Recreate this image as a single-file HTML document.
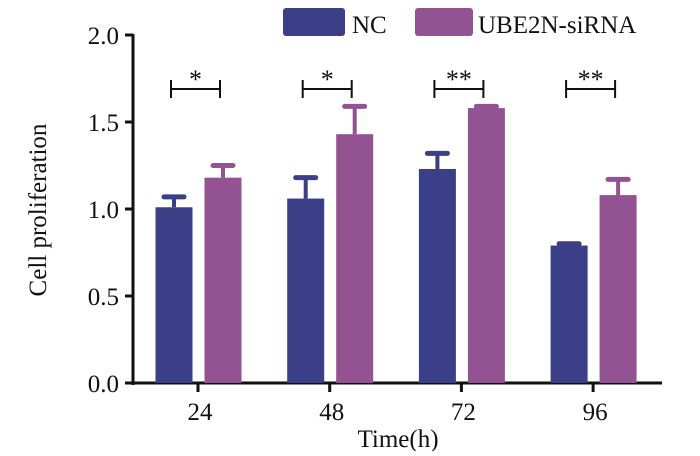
<!DOCTYPE html>
<html><head><meta charset="utf-8"><style>
body{margin:0;background:#fff}
svg text{font-family:"Liberation Serif",serif;fill:#111}
</style></head><body>
<svg id="chart" width="700" height="451">
<g id="axes"></g><g id="bars"></g><g id="sig"></g>
<g>
<rect x="283" y="8" width="62" height="28" rx="3" fill="#3a3f87"/>
<text x="352" y="33" font-size="25">NC</text>
<rect x="415" y="8" width="58" height="28" rx="3" fill="#935392"/>
<text x="478" y="33" font-size="25">UBE2N-siRNA</text>
</g>
<text x="398" y="447" font-size="25" text-anchor="middle">Time(h)</text>
<text transform="translate(46,210) rotate(-90)" font-size="25" text-anchor="middle">Cell proliferation</text>
</svg>
<script>
const categories=["24","48","72","96"];
const ncValues=[1.01,1.06,1.23,0.79];
const ncErr=[0.06,0.12,0.09,0.01];
const siValues=[1.18,1.43,1.58,1.08];
const siErr=[0.07,0.16,0.01,0.09];
const sigLabels=["*","*","**","**"];
const yTicks=[0,0.5,1.0,1.5,2.0];
const NS="http://www.w3.org/2000/svg";
const x0=133,y0=383,yScale=174;
const y=v=>y0-v*yScale;
const xc=i=>198+i*131.7;
function mk(tag,attrs,parent,text){const e=document.createElementNS(NS,tag);for(const k in attrs)e.setAttribute(k,attrs[k]);if(text!==undefined)e.textContent=text;parent.appendChild(e);return e;}
const axes=document.getElementById('axes'),bars=document.getElementById('bars'),sig=document.getElementById('sig');
let a=mk('line',{x1:x0,y1:y(2)-1,x2:x0,y2:y0+2,stroke:'#111','stroke-width':3},axes);

a=mk('line',{x1:x0-8,y1:y0,x2:662,y2:y0,stroke:'#111','stroke-width':3},axes);

yTicks.forEach(t=>{
 let l=mk('line',{x1:x0-8,y1:y(t),x2:x0,y2:y(t),stroke:'#111','stroke-width':3},axes);
 
 let tx=mk('text',{x:x0-14,y:y(t)+9,'font-size':25,'text-anchor':'end'},axes,t.toFixed(1));
 
});
categories.forEach((c,i)=>{
 const cx=xc(i);
 let l=mk('line',{x1:cx,y1:y0,x2:cx,y2:y0+9,stroke:'#111','stroke-width':3},axes);
 
 let tx=mk('text',{x:cx+2,y:y0+37,'font-size':25,'text-anchor':'middle'},axes,c);
 
 [[ncValues,ncErr,'#3a3f87',-24,'nc'],[siValues,siErr,'#935392',25,'sirna']].forEach(([v,e,col,off,nm])=>{
  const bx=cx+off;
  let r=mk('rect',{x:bx-18.5,y:y(v[i]),width:37,height:y0-y(v[i]),fill:col},bars);
  
  let el=mk('line',{x1:bx,y1:y(v[i]),x2:bx,y2:y(v[i]+e[i]),stroke:col,'stroke-width':4},bars);
  
  let cap=mk('line',{x1:bx-10,y1:y(v[i]+e[i]),x2:bx+10,y2:y(v[i]+e[i]),stroke:col,'stroke-width':5,'stroke-linecap':'round'},bars);
  
 });
 const xa=cx-27,xb=cx+22,by=89;
 let p=mk('path',{d:`M${xa} ${by-9}V${by+9}M${xa} ${by}H${xb}M${xb} ${by-9}V${by+9}`,stroke:'#111','stroke-width':2,fill:'none'},sig);
 
 let s=mk('text',{x:(xa+xb)/2,y:by-1,'font-size':26,'text-anchor':'middle'},sig,sigLabels[i]);
 
});
</script>
</body></html>
